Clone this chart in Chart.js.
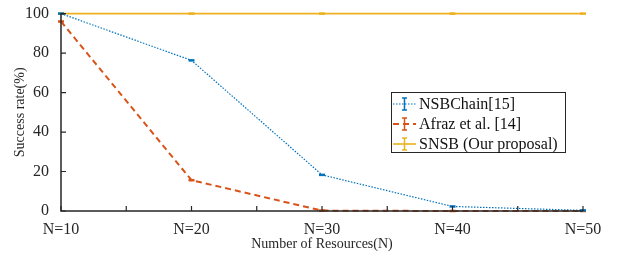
<!DOCTYPE html>
<html>
<head>
<meta charset="utf-8">
<script src="https://cdn.jsdelivr.net/npm/chart.js@4"></script>
<style>
  html, body { margin: 0; padding: 0; background: #fff; }
  #wrap { width: 623px; height: 258px; }
</style>
</head>
<body>
<div id="wrap"><canvas id="chart" width="623" height="258"></canvas></div>
<script>
const resources = [10, 20, 30, 40, 50];
const nsbChain = [100, 76.3, 18.3, 2.3, 0.3];
const afraz = [96, 15.6, 0.2, 0, 0];
const snsb = [100, 100, 100, 100, 100];
const seriesNames = ['NSBChain[15]', 'Afraz et al. [14]', 'SNSB (Our proposal)'];
const seriesColors = ['#0072BD', '#D95319', '#EDB120'];
const seriesDash = [[1.5, 1.5], [6, 4], []];
const seriesWidth = [1.2, 2, 1.6];

const axisColor = '#262626';
const serif = '"Liberation Serif", "DejaVu Serif", serif';

function toPoints(vals) {
    return resources.map((r, i) => ({ x: r, y: vals[i] }));
}

const datasets = [nsbChain, afraz, snsb].map((vals, i) => ({
    label: seriesNames[i],
    data: toPoints(vals),
    borderColor: seriesColors[i],
    backgroundColor: seriesColors[i],
    borderWidth: seriesWidth[i],
    borderDash: seriesDash[i],
    pointStyle: 'line',
    pointRadius: 3,
    pointBorderWidth: 2.5,
    pointBorderColor: seriesColors[i],
    tension: 0,
    clip: false
}));

// inward tick marks, axis lines and the boxed legend
const matlabLook = {
    id: 'matlabLook',
    afterDraw(chart) {
        const { ctx, chartArea } = chart;
        const xs = chart.scales.x, ys = chart.scales.y;
        ctx.save();
        ctx.strokeStyle = axisColor;
        ctx.lineWidth = 1.5;
        ctx.beginPath();
        ctx.moveTo(chartArea.left, chartArea.top);
        ctx.lineTo(chartArea.left, chartArea.bottom);
        ctx.lineTo(chartArea.right, chartArea.bottom);
        ctx.stroke();
        ctx.lineWidth = 1.2;
        ctx.beginPath();
        xs.ticks.forEach(t => {
            const px = xs.getPixelForValue(t.value);
            ctx.moveTo(px, chartArea.bottom);
            ctx.lineTo(px, chartArea.bottom - 5);
        });
        ys.ticks.forEach(t => {
            const py = ys.getPixelForValue(t.value);
            ctx.moveTo(chartArea.left, py);
            ctx.lineTo(chartArea.left + 5, py);
        });
        ctx.stroke();

        // legend box
        const bx = 391, by = 92, bw = 174, bh = 60;
        ctx.fillStyle = '#fff';
        ctx.fillRect(bx, by, bw, bh);
        ctx.strokeStyle = '#262626';
        ctx.lineWidth = 1;
        ctx.strokeRect(bx + 0.5, by + 0.5, bw, bh);
        ctx.font = '16px ' + serif;
        ctx.textBaseline = 'middle';
        ctx.textAlign = 'left';
        seriesNames.forEach((name, i) => {
            const cy = by + 12 + i * 20;
            ctx.strokeStyle = seriesColors[i];
            ctx.lineWidth = seriesWidth[i];
            ctx.setLineDash(seriesDash[i]);
            ctx.beginPath();
            ctx.moveTo(bx + 2, cy);
            ctx.lineTo(bx + 25, cy);
            ctx.stroke();
            ctx.setLineDash([]);
            ctx.lineWidth = 1.5;
            ctx.beginPath();
            ctx.moveTo(bx + 13.5, cy - 6);
            ctx.lineTo(bx + 13.5, cy + 6);
            ctx.moveTo(bx + 11, cy - 6);
            ctx.lineTo(bx + 16, cy - 6);
            ctx.moveTo(bx + 11, cy + 6);
            ctx.lineTo(bx + 16, cy + 6);
            ctx.stroke();
            ctx.fillStyle = '#111';
            ctx.fillText(name, bx + 28, cy + 1);
        });
        ctx.restore();
    }
};

new Chart(document.getElementById('chart'), {
    type: 'line',
    data: { datasets },
    options: {
        responsive: false,
        animation: false,
        layout: { padding: { top: 11, right: 40, left: 12, bottom: 0 } },
        plugins: {
            legend: { display: false },
            tooltip: { enabled: false }
        },
        scales: {
            x: {
                type: 'linear',
                min: 10,
                max: 50,
                border: { display: false },
                grid: { display: false },
                ticks: {
                    stepSize: 5,
                    maxRotation: 0,
                    autoSkip: false,
                    padding: 1,
                    color: '#262626',
                    font: { family: serif, size: 16 },
                    callback: v => (v % 10 === 0 ? 'N=' + v : '')
                },
                title: {
                    display: true,
                    text: 'Number of Resources(N)',
                    color: '#262626',
                    font: { family: serif, size: 14 },
                    padding: { top: 0, bottom: 5 }
                },
                afterFit: s => { s.height = 47; }
            },
            y: {
                min: 0,
                max: 100,
                border: { display: false },
                grid: { display: false },
                ticks: {
                    stepSize: 20,
                    padding: 4,
                    color: '#262626',
                    font: { family: serif, size: 16 }
                },
                title: {
                    display: true,
                    text: 'Success rate(%)',
                    color: '#262626',
                    font: { family: serif, size: 14 },
                    padding: { top: 0, bottom: 4 }
                },
                afterFit: s => { s.width = 49; }
            }
        }
    },
    plugins: [matlabLook]
});
</script>
</body>
</html>
